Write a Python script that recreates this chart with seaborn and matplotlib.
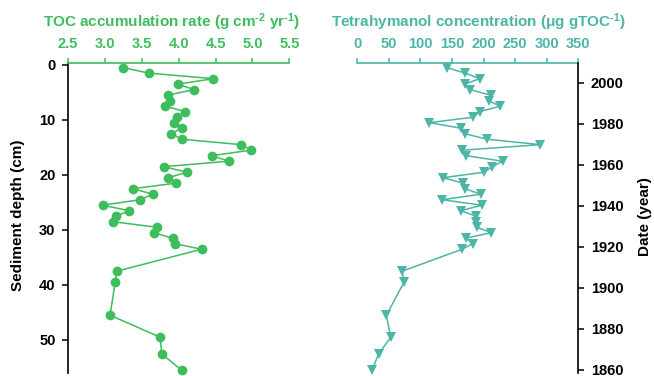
import numpy as np
import pandas as pd
import matplotlib
matplotlib.use("Agg")
import matplotlib.pyplot as plt
import seaborn as sns

# ---- data ----
depth = [0.5, 1.5, 2.5, 3.5, 4.5, 5.5, 6.5, 7.5, 8.5, 9.5,
         10.5, 11.5, 12.5, 13.5, 14.5, 15.5, 16.5, 17.5, 18.5, 19.5,
         20.5, 21.5, 22.5, 23.5, 24.5, 25.5, 26.5, 27.5, 28.5, 29.5,
         30.5, 31.5, 32.5, 33.5, 37.5, 39.5, 45.5, 49.5, 52.5, 55.5]
toc_rate = [3.25, 3.60, 4.47, 3.99, 4.21, 3.85, 3.88, 3.82, 4.09, 3.98,
            3.94, 4.04, 3.90, 4.04, 4.85, 4.98, 4.45, 4.68, 3.80, 4.11,
            3.86, 3.96, 3.38, 3.65, 3.48, 2.97, 3.33, 3.15, 3.11, 3.70,
            3.66, 3.92, 3.95, 4.31, 3.16, 3.14, 3.07, 3.75, 3.77, 4.04]
tetrahymanol = [142, 171, 194, 170, 179, 211, 208, 226, 194, 184,
                114, 164, 170, 205, 290, 166, 172, 230, 214, 201,
                136, 167, 170, 196, 134, 197, 164, 188, 188, 189,
                212, 172, 183, 166, 71, 74, 46, 53, 34, 23]
toc_ticks = [2.5, 3.0, 3.5, 4.0, 4.5, 5.0, 5.5]
tet_ticks = [0, 50, 100, 150, 200, 250, 300, 350]
depth_ticks = [0, 10, 20, 30, 40, 50]
year_ticks = [1860, 1880, 1900, 1920, 1940, 1960, 1980, 2000]

green = "#3dbd5b"
teal = "#4cb5a8"

sns.set_theme(style="white")
plt.rcParams["font.family"] = ["Liberation Sans", "DejaVu Sans"]
plt.rcParams["font.weight"] = "bold"
plt.rcParams["mathtext.fontset"] = "custom"
plt.rcParams["mathtext.rm"] = "Liberation Sans:bold"
plt.rcParams["mathtext.default"] = "regular"

W, H = 654, 376
fig = plt.figure(figsize=(W / 100, H / 100), dpi=100)

def frac_box(x0, x1, ytop, ybot):
    return [x0 / W, 1 - ybot / H, (x1 - x0) / W, (ybot - ytop) / H]

ax1 = fig.add_axes(frac_box(68, 289.3, 62.7, 373))
ax2 = fig.add_axes(frac_box(357.3, 578.3, 62.7, 373))

df = pd.DataFrame({"depth": depth, "toc": toc_rate, "tet": tetrahymanol})

sns.lineplot(data=df, x="toc", y="depth", ax=ax1, sort=False, estimator=None,
             color=green, lw=1.1, marker="o", markersize=7,
             markeredgewidth=0, markerfacecolor=green, clip_on=False)
sns.lineplot(data=df, x="tet", y="depth", ax=ax2, sort=False, estimator=None,
             color=teal, lw=1.1, marker="v", markersize=7.5,
             markeredgewidth=0, markerfacecolor=teal, clip_on=False)

ylim = (56.0, -0.4)
for ax in (ax1, ax2):
    ax.set_ylim(*ylim)
    ax.set_xlabel("")
    ax.set_ylabel("")
    ax.xaxis.tick_top()
    ax.spines["bottom"].set_visible(False)
    ax.grid(False)

# left panel
ax1.set_xlim(2.5, 5.5)
ax1.set_xticks(toc_ticks)
ax1.set_xticklabels([f"{t:.1f}" for t in toc_ticks])
ax1.set_yticks(depth_ticks)
ax1.spines["right"].set_visible(False)
ax1.spines["top"].set_color(green)
ax1.spines["top"].set_linewidth(1.2)
ax1.spines["left"].set_color("black")
ax1.spines["left"].set_linewidth(1.2)
ax1.tick_params(axis="x", colors=green, labelsize=10.5, length=3.5, width=1.1,
                pad=5, direction="out", top=True, bottom=False)
ax1.tick_params(axis="y", colors="black", labelsize=10.5, length=4, width=1.1,
                pad=5, direction="out", left=True)
for lbl in ax1.get_xticklabels() + ax1.get_yticklabels():
    lbl.set_fontweight("bold")

# right panel
ax2.set_xlim(0, 350)
ax2.set_xticks(tet_ticks)
ax2.set_yticks([])
ax2.spines["left"].set_visible(False)
ax2.spines["right"].set_visible(False)
ax2.spines["top"].set_color(teal)
ax2.spines["top"].set_linewidth(1.2)
ax2.tick_params(axis="x", colors=teal, labelsize=10.5, length=3.5, width=1.1,
                pad=5, direction="out", top=True, bottom=False)
for lbl in ax2.get_xticklabels():
    lbl.set_fontweight("bold")

ax3 = ax2.twinx()
ax3.set_ylim(1858.5, 2009.9)
ax3.set_yticks(year_ticks)
for s in ("left", "top", "bottom"):
    ax3.spines[s].set_visible(False)
ax3.spines["right"].set_color("black")
ax3.spines["right"].set_linewidth(1.2)
ax3.tick_params(axis="y", colors="black", labelsize=10.5, length=4, width=1.1,
                pad=5, direction="out", right=True)
ax3.grid(False)
for lbl in ax3.get_yticklabels():
    lbl.set_fontweight("bold")

# titles / labels
fig.text(171 / W, 1 - 22 / H, r"TOC accumulation rate (g cm$^{\text{-}2}$ yr$^{\text{-}1}$)",
         color=green, fontsize=11, fontweight="bold", ha="center", va="center")
fig.text(479 / W, 1 - 22 / H, "Tetrahymanol concentration (\u03bcg gTOC$^{\\text{-}1}$)",
         color=teal, fontsize=11, fontweight="bold", ha="center", va="center")
fig.text(18 / W, 1 - 215 / H, "Sediment depth (cm)", rotation=90,
         color="black", fontsize=11, fontweight="bold", ha="center", va="center")
fig.text(645 / W, 1 - 217 / H, "Date (year)", rotation=90,
         color="black", fontsize=11, fontweight="bold", ha="center", va="center")

fig.savefig("out.png", dpi=100)
